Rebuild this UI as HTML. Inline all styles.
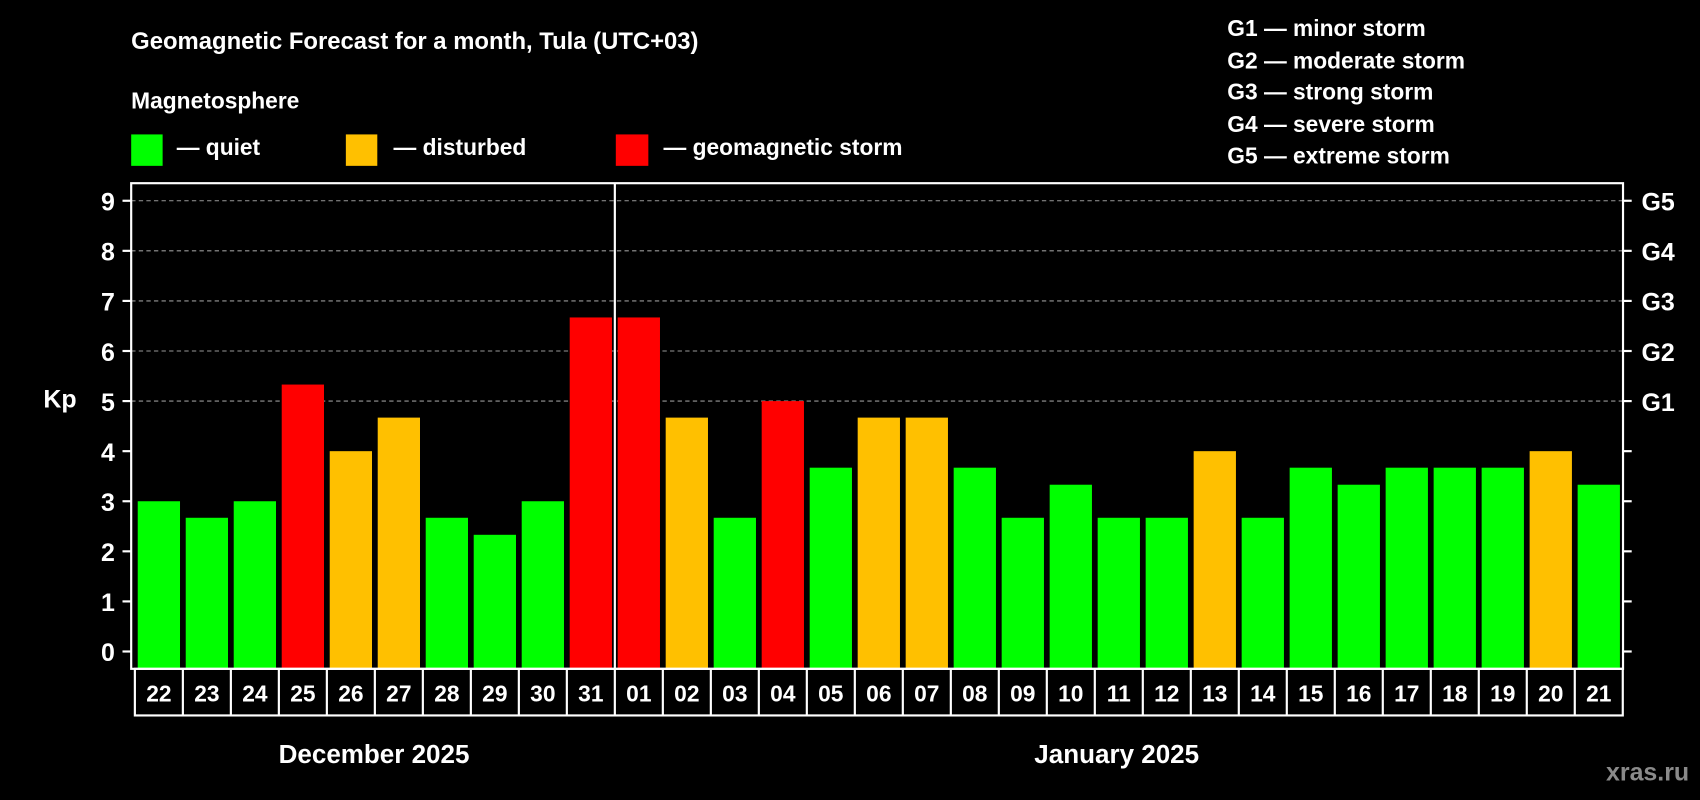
<!DOCTYPE html>
<html><head><meta charset="utf-8"><style>
html,body{margin:0;padding:0;background:#000;}
svg{display:block;font-family:"Liberation Sans",Arial,sans-serif;font-weight:bold;}
</style></head><body>
<svg id="chart" width="1700" height="800" viewBox="0 0 1568 738" preserveAspectRatio="none" xmlns="http://www.w3.org/2000/svg">
<rect x="0" y="0" width="1568" height="738" fill="#000"/>
<text x="121" y="45" fill="#fff" font-size="22">Geomagnetic Forecast for a month, Tula (UTC+03)</text>
<text x="121" y="100" fill="#fff" font-size="21">Magnetosphere</text>
<rect x="121" y="124" width="29" height="29" fill="#00ff00"/>
<text x="163" y="143" fill="#fff" font-size="21">— quiet</text>
<rect x="319" y="124" width="29" height="29" fill="#ffc000"/>
<text x="363" y="143" fill="#fff" font-size="21">— disturbed</text>
<rect x="568" y="124" width="30" height="29" fill="#ff0000"/>
<text x="612" y="143" fill="#fff" font-size="21">— geomagnetic storm</text>
<g fill="#fff" font-size="21">
<text x="1132" y="33">G1 — minor storm</text>
<text x="1132" y="63">G2 — moderate storm</text>
<text x="1132" y="92">G3 — strong storm</text>
<text x="1132" y="122">G4 — severe storm</text>
<text x="1132" y="151">G5 — extreme storm</text>
</g>
<text x="40" y="376" fill="#fff" font-size="23">Kp</text>
<g id="grid"></g>
<g id="bars"></g>
<g id="axes"></g>
<text x="345" y="704" fill="#fff" font-size="24" text-anchor="middle">December 2025</text>
<text x="1030" y="704" fill="#fff" font-size="24" text-anchor="middle">January 2025</text>
<text x="1558" y="720" fill="#8a8a8a" font-size="23" text-anchor="end">xras.ru</text>
</svg>
<script>
const days = ["22","23","24","25","26","27","28","29","30","31","01","02","03","04","05","06","07","08","09","10","11","12","13","14","15","16","17","18","19","20","21"];
const kpValues = [3,2.67,3,5.33,4,4.67,2.67,2.33,3,6.67,6.67,4.67,2.67,5,3.67,4.67,4.67,3.67,2.67,3.33,2.67,2.67,4,2.67,3.67,3.33,3.67,3.67,3.67,4,3.33];
const yTicks = [0,1,2,3,4,5,6,7,8,9];
const gLabels = ["G1","G2","G3","G4","G5"];
const gLevels = [5,6,7,8,9];
const monthBreakIndex = 10;

const NS="http://www.w3.org/2000/svg";
const X0=124.4, SLOT=44.27, BW=39, Y0=601, UNIT=46.2;
const L=121, R=1497, T=169, B=617;
const xs=i=>X0+SLOT*i;
const ys=v=>Y0-v*UNIT;
function mk(tag,attrs,parent){const e=document.createElementNS(NS,tag);for(const k in attrs)e.setAttribute(k,attrs[k]);parent.appendChild(e);return e;}
function color(v){return v>=5?"#ff0000":(v>=4?"#ffc000":"#00ff00");}
const grid=document.getElementById('grid'),bars=document.getElementById('bars'),axes=document.getElementById('axes');

gLevels.forEach((lv,i)=>{
  const ln=mk('line',{x1:L,x2:R,y1:ys(lv),y2:ys(lv),stroke:"#999","stroke-width":1,"stroke-dasharray":"4,3"},grid);
  
  
  const t=mk('text',{x:1514,y:ys(lv)+9,fill:"#fff","font-size":23},axes);
  t.textContent=gLabels[i];
  
  
});
kpValues.forEach((v,i)=>{
  const r=mk('rect',{x:xs(i)+(SLOT-BW)/2,y:ys(v),width:BW,height:B-ys(v),fill:color(v)},bars);
  
  
});
// frame
const fr=mk('rect',{x:L,y:T,width:R-L,height:B-T,fill:"none",stroke:"#fff","stroke-width":2},axes);


const dv=mk('line',{x1:xs(monthBreakIndex),x2:xs(monthBreakIndex),y1:T,y2:B,stroke:"#fff","stroke-width":2},axes);


yTicks.forEach(v=>{
  const tl=mk('line',{x1:L-8,x2:L,y1:ys(v),y2:ys(v),stroke:"#fff","stroke-width":2},axes);
  
  
  const tr=mk('line',{x1:R,x2:R+8,y1:ys(v),y2:ys(v),stroke:"#fff","stroke-width":2},axes);
  
  
  const t=mk('text',{x:106,y:ys(v)+9,fill:"#fff","font-size":23,"text-anchor":"end"},axes);
  t.textContent=v;
  
  
});
// date boxes
const bx=mk('rect',{x:X0,y:B,width:SLOT*days.length,height:43,fill:"none",stroke:"#fff","stroke-width":2},axes);


days.forEach((d,i)=>{
  if(i>0){
    const s=mk('line',{x1:xs(i),x2:xs(i),y1:B,y2:B+43,stroke:"#fff","stroke-width":2},axes);
    
    
  }
  const t=mk('text',{x:xs(i)+SLOT/2,y:B+30,fill:"#fff","font-size":21,"text-anchor":"middle"},axes);
  t.textContent=d;
  
  
});
</script>
</body></html>
